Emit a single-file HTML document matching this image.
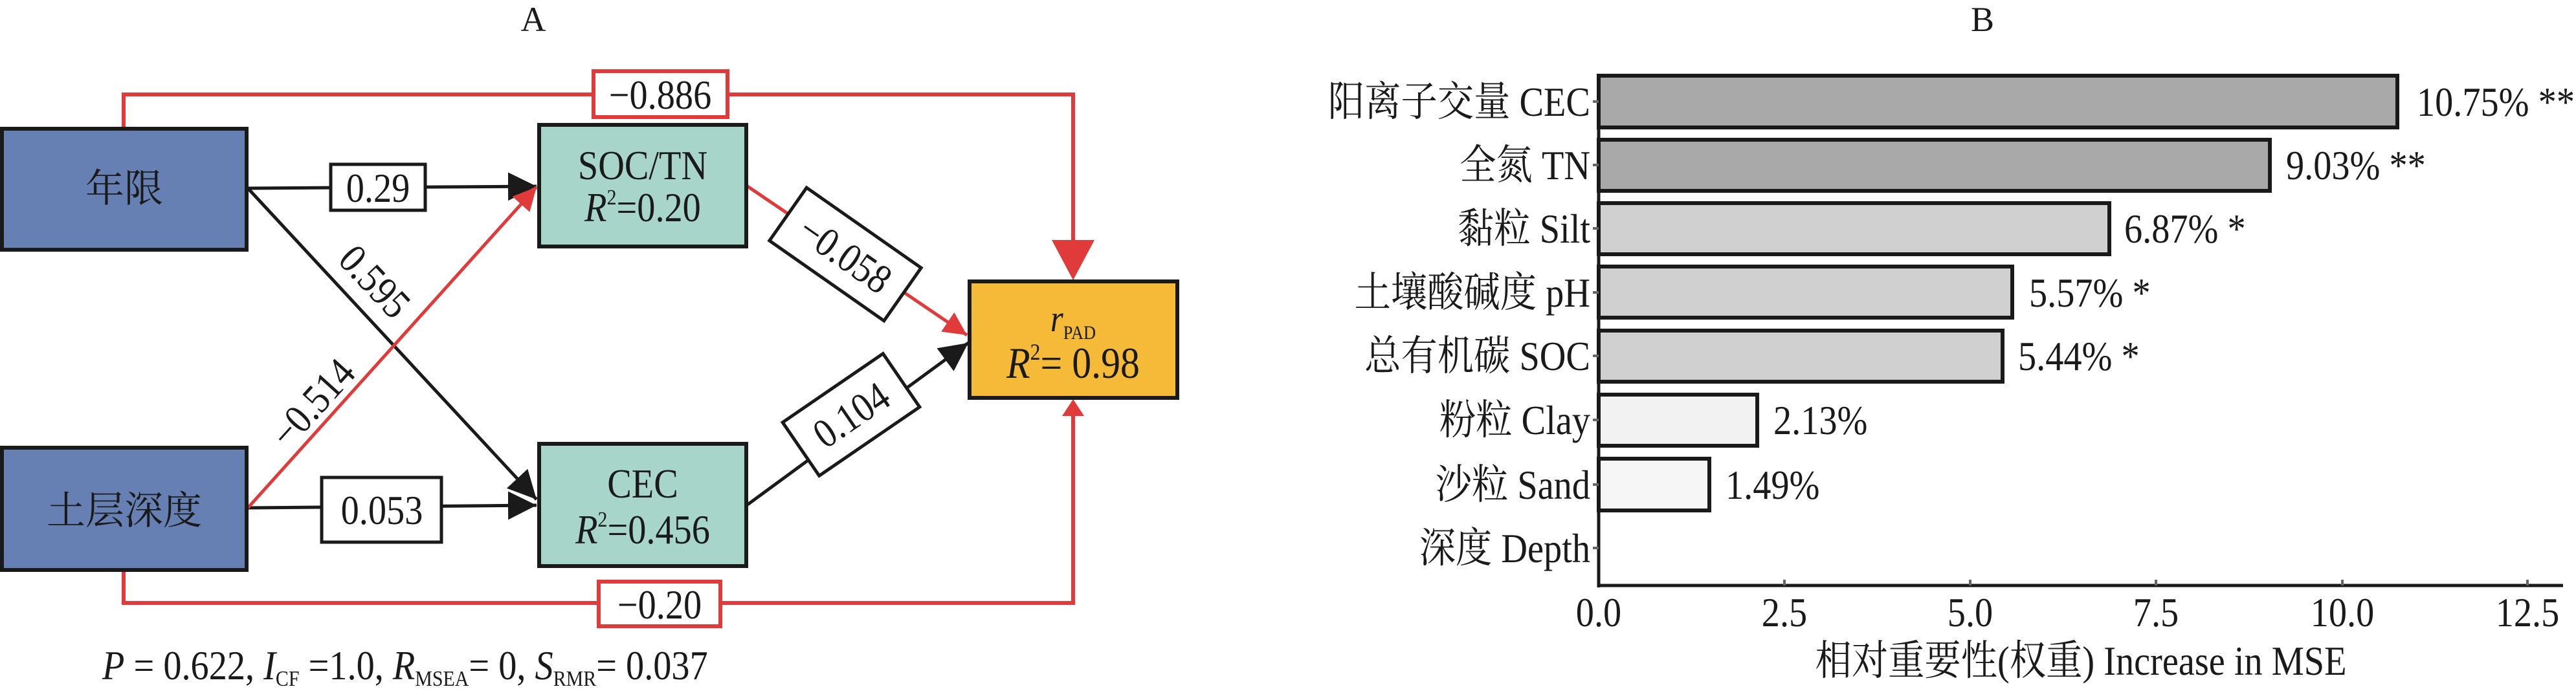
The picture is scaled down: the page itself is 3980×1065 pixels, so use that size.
<!DOCTYPE html>
<html><head><meta charset="utf-8"><style>
html,body{margin:0;padding:0;background:#fff;}
svg{display:block;}
text{font-family:"Liberation Serif","Noto Serif CJK SC","Noto Sans CJK SC",serif;fill:#1a1a1a;}
</style></head><body>
<svg width="3980" height="1065" viewBox="0 0 3980 1065" xmlns="http://www.w3.org/2000/svg" font-family="Liberation Serif, Noto Serif CJK SC, serif">
<defs>
<marker id="ab" viewBox="0 0 10 10" refX="10" refY="5" markerWidth="44" markerHeight="44" markerUnits="userSpaceOnUse" orient="auto"><path d="M0,0 L10,5 L0,10 z" fill="#1a1a1a"/></marker>
<marker id="ar" viewBox="0 0 10 10" refX="10" refY="5" markerWidth="36" markerHeight="36" markerUnits="userSpaceOnUse" orient="auto"><path d="M0,0 L10,5 L0,10 z" fill="#e03a3a"/></marker>
</defs>
<text x="824" y="48" font-size="54" text-anchor="middle">A</text>
<text x="3063" y="48" font-size="54" text-anchor="middle">B</text>

<polyline points="191,197 191,146 1658,146 1658,375" fill="none" stroke="#e03a3a" stroke-width="6"/>
<polygon points="1625,371 1691,371 1658,433" fill="#e03a3a"/>
<polyline points="191,883 191,932 1658,932 1658,640" fill="none" stroke="#e03a3a" stroke-width="6"/>
<polygon points="1641,643 1675,643 1658,617" fill="#e03a3a"/>
<rect x="917" y="110" width="207" height="71" fill="#fff" stroke="#e03a3a" stroke-width="6"/>
<text transform="translate(1020,168) scale(0.88,1)" font-size="64" text-anchor="middle">−0.886</text>
<rect x="925" y="899" width="188" height="69" fill="#fff" stroke="#e03a3a" stroke-width="6"/>
<text transform="translate(1019,956) scale(0.88,1)" font-size="64" text-anchor="middle">−0.20</text>

<line x1="383" y1="291" x2="829" y2="288" stroke="#1a1a1a" stroke-width="5" marker-end="url(#ab)"/>
<line x1="383" y1="785" x2="829" y2="781" stroke="#1a1a1a" stroke-width="5" marker-end="url(#ab)"/>
<line x1="383" y1="291" x2="829" y2="772" stroke="#1a1a1a" stroke-width="5" marker-end="url(#ab)"/>
<line x1="383" y1="785" x2="829" y2="289" stroke="#e03a3a" stroke-width="5" marker-end="url(#ar)"/>
<line x1="1155" y1="288" x2="1494" y2="518" stroke="#e03a3a" stroke-width="5" marker-end="url(#ar)"/>
<line x1="1155" y1="780" x2="1496" y2="530" stroke="#1a1a1a" stroke-width="5" marker-end="url(#ab)"/>

<rect x="511" y="254" width="146" height="71" fill="#fff" stroke="#1a1a1a" stroke-width="5"/>
<text transform="translate(584,312) scale(0.88,1)" font-size="64" text-anchor="middle">0.29</text>
<rect x="497" y="738" width="185" height="100" fill="#fff" stroke="#1a1a1a" stroke-width="5"/>
<text transform="translate(590,810) scale(0.88,1)" font-size="64" text-anchor="middle">0.053</text>
<g transform="translate(1306,393) rotate(35)">
<rect x="-108" y="-50" width="216" height="100" fill="#fff" stroke="#1a1a1a" stroke-width="5"/>
<text transform="translate(0,22) scale(0.88,1)" font-size="64" text-anchor="middle">−0.058</text>
</g>
<g transform="translate(1315,641) rotate(-34.4)">
<rect x="-94" y="-50" width="188" height="100" fill="#fff" stroke="#1a1a1a" stroke-width="5"/>
<text transform="translate(0,22) scale(0.88,1)" font-size="64" text-anchor="middle">0.104</text>
</g>
<text transform="translate(578,436) rotate(46.7) translate(0,20) scale(0.88,1)" font-size="64" text-anchor="middle">0.595</text>
<text transform="translate(484,624) rotate(-47.9) translate(0,20) scale(0.88,1)" font-size="64" text-anchor="middle">−0.514</text>

<rect x="3" y="199" width="378" height="187" fill="#6680b3" stroke="#1a1a1a" stroke-width="6"/>
<text x="192" y="312" font-size="60" text-anchor="middle">年限</text>
<rect x="3" y="692" width="378" height="189" fill="#6680b3" stroke="#1a1a1a" stroke-width="6"/>
<text x="192" y="810" font-size="60" text-anchor="middle">土层深度</text>
<rect x="833" y="193" width="320" height="188" fill="#a8d5c9" stroke="#1a1a1a" stroke-width="6"/>
<text transform="translate(993,277) scale(0.88,1)" font-size="64" text-anchor="middle">SOC/TN</text>
<text transform="translate(993,342) scale(0.88,1)" font-size="64" text-anchor="middle"><tspan font-style="italic">R</tspan><tspan font-size="34" dy="-26">2</tspan><tspan dy="26">=0.20</tspan></text>
<rect x="833" y="686" width="320" height="189" fill="#a8d5c9" stroke="#1a1a1a" stroke-width="6"/>
<text transform="translate(993,769) scale(0.88,1)" font-size="64" text-anchor="middle">CEC</text>
<text transform="translate(993,840) scale(0.88,1)" font-size="64" text-anchor="middle"><tspan font-style="italic">R</tspan><tspan font-size="34" dy="-26">2</tspan><tspan dy="26">=0.456</tspan></text>
<rect x="1498" y="435" width="321" height="180" fill="#f5ba37" stroke="#1a1a1a" stroke-width="6"/>
<text transform="translate(1658,512) scale(0.88,1)" font-size="58" text-anchor="middle"><tspan font-style="italic">r</tspan><tspan font-size="30" dy="12">PAD</tspan></text>
<text transform="translate(1658,584) scale(0.88,1)" font-size="68" text-anchor="middle"><tspan font-style="italic">R</tspan><tspan font-size="36" dy="-28">2</tspan><tspan dy="28">= 0.98</tspan></text>

<text transform="translate(158,1050) scale(0.88,1)" font-size="64"><tspan font-style="italic">P</tspan> = 0.622, <tspan font-style="italic">I</tspan><tspan font-size="34" dy="10">CF</tspan><tspan dy="-10"> =1.0, </tspan><tspan font-style="italic">R</tspan><tspan font-size="34" dy="10">MSEA</tspan><tspan dy="-10">= 0, </tspan><tspan font-style="italic">S</tspan><tspan font-size="34" dy="10">RMR</tspan><tspan dy="-10">= 0.037</tspan></text>

<g stroke="#1a1a1a" stroke-width="6">
<rect x="2470" y="117" width="1234" height="80" fill="#a9a9a9"/>
<rect x="2470" y="216" width="1037" height="79" fill="#a9a9a9"/>
<rect x="2470" y="314" width="789" height="79" fill="#d0d0d0"/>
<rect x="2470" y="412" width="639" height="79" fill="#d0d0d0"/>
<rect x="2470" y="511" width="624" height="79" fill="#d0d0d0"/>
<rect x="2470" y="610" width="245" height="79" fill="#f2f2f2"/>
<rect x="2470" y="709" width="171" height="80" fill="#f6f6f6"/>
</g>
<line x1="2470" y1="115" x2="2470" y2="908" stroke="#1a1a1a" stroke-width="5"/>
<line x1="2468" y1="905" x2="3960" y2="905" stroke="#1a1a1a" stroke-width="5"/>
<g stroke="#666" stroke-width="4">
<line x1="2461" y1="157" x2="2470" y2="157"/><line x1="2461" y1="255" x2="2470" y2="255"/>
<line x1="2461" y1="353" x2="2470" y2="353"/><line x1="2461" y1="452" x2="2470" y2="452"/>
<line x1="2461" y1="550" x2="2470" y2="550"/><line x1="2461" y1="649" x2="2470" y2="649"/>
<line x1="2461" y1="749" x2="2470" y2="749"/><line x1="2461" y1="847" x2="2470" y2="847"/>
<line x1="2757" y1="905" x2="2757" y2="896"/><line x1="3044" y1="905" x2="3044" y2="896"/>
<line x1="3331" y1="905" x2="3331" y2="896"/><line x1="3619" y1="905" x2="3619" y2="896"/>
<line x1="3905" y1="905" x2="3905" y2="896"/>
</g>
<g font-size="64" text-anchor="end">
<text transform="translate(2457,179) scale(0.88,1)">阳离子交量 CEC</text>
<text transform="translate(2457,277) scale(0.88,1)">全氮 TN</text>
<text transform="translate(2457,375) scale(0.88,1)">黏粒 Silt</text>
<text transform="translate(2457,474) scale(0.88,1)">土壤酸碱度 pH</text>
<text transform="translate(2457,572) scale(0.88,1)">总有机碳 SOC</text>
<text transform="translate(2457,671) scale(0.88,1)">粉粒 Clay</text>
<text transform="translate(2457,771) scale(0.88,1)">沙粒 Sand</text>
<text transform="translate(2457,869) scale(0.88,1)">深度 Depth</text>
</g>
<g font-size="64">
<text transform="translate(3734,179) scale(0.88,1)">10.75% **</text>
<text transform="translate(3532,277) scale(0.88,1)">9.03% **</text>
<text transform="translate(3282,375) scale(0.88,1)">6.87% *</text>
<text transform="translate(3135,474) scale(0.88,1)">5.57% *</text>
<text transform="translate(3118,572) scale(0.88,1)">5.44% *</text>
<text transform="translate(2740,671) scale(0.88,1)">2.13%</text>
<text transform="translate(2666,771) scale(0.88,1)">1.49%</text>
</g>
<g font-size="64" text-anchor="middle">
<text transform="translate(2470,968) scale(0.88,1)">0.0</text>
<text transform="translate(2757,968) scale(0.88,1)">2.5</text>
<text transform="translate(3044,968) scale(0.88,1)">5.0</text>
<text transform="translate(3331,968) scale(0.88,1)">7.5</text>
<text transform="translate(3619,968) scale(0.88,1)">10.0</text>
<text transform="translate(3905,968) scale(0.88,1)">12.5</text>
</g>
<text transform="translate(3215,1043) scale(0.88,1)" font-size="64" text-anchor="middle">相对重要性(权重)  Increase in MSE</text>
</svg>
</body></html>
